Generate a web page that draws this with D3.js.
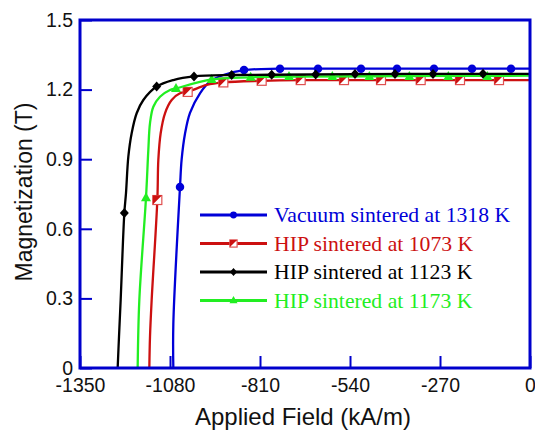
<!DOCTYPE html>
<html>
<head>
<meta charset="utf-8">
<script src="https://cdn.jsdelivr.net/npm/d3@7"></script>
<style>
  body { margin: 0; background: #fff; }
  svg { display: block; }
</style>
</head>
<body>
<div id="chart"></div>
<script>
// demagnetization curves, values
var xTicks = [-1350, -1080, -810, -540, -270, 0];
var yTicks = [0, 0.3, 0.6, 0.9, 1.2, 1.5];

var seriesNames = [
  "Vacuum sintered at 1318 K",
  "HIP sintered at 1073 K",
  "HIP sintered at 1123 K",
  "HIP sintered at 1173 K"
];

var vacuumCurve = [[-1070, 0], [-1070, 0.19], [-1050, 0.78], [-1045, 0.90], [-1035, 1.01], [-1020, 1.10],
  [-990, 1.184], [-960, 1.234], [-920, 1.263], [-858, 1.284], [-750, 1.29], [-500, 1.29], [-250, 1.29], [0, 1.29]];
var vacuumMarks = [[-1050, 0.78], [-858, 1.284], [-750, 1.29], [-636, 1.29], [-507, 1.29], [-399, 1.29],
  [-288, 1.29], [-174, 1.29], [-57, 1.29]];

var hip1073Curve = [[-1142, 0], [-1140, 0.135], [-1135, 0.293], [-1118, 0.724], [-1115, 0.897], [-1108, 1.012],
  [-1095, 1.098], [-1075, 1.155], [-1050, 1.184], [-1027, 1.19], [-970, 1.22], [-920, 1.231], [-805, 1.238],
  [-688, 1.241], [-400, 1.241], [0, 1.241]];
var hip1073Marks = [[-1118, 0.724], [-1027, 1.19], [-920, 1.231], [-805, 1.238], [-688, 1.241], [-558, 1.241],
  [-447, 1.241], [-328, 1.241], [-210, 1.241], [-93, 1.241]];

var hip1123Curve = [[-1237, 0], [-1233, 0.135], [-1228, 0.293], [-1217, 0.668], [-1212, 0.754], [-1205, 0.911],
  [-1195, 1.012], [-1180, 1.098], [-1160, 1.155], [-1120, 1.213], [-1070, 1.241], [-1008, 1.257], [-895, 1.263],
  [-775, 1.264], [-525, 1.267], [-141, 1.268], [0, 1.268]];
var hip1123Marks = [[-1217, 0.668], [-1120, 1.213], [-1008, 1.257], [-895, 1.263], [-775, 1.264], [-643, 1.265],
  [-525, 1.267], [-405, 1.267], [-291, 1.267], [-141, 1.268]];

var hip1173Curve = [[-1177, 0], [-1172, 0.293], [-1152, 0.734], [-1145, 0.94], [-1140, 1.055], [-1130, 1.126],
  [-1110, 1.169], [-1080, 1.198], [-1062, 1.205], [-955, 1.244], [-838, 1.253], [-723, 1.256], [-400, 1.258], [0, 1.26]];
var hip1173Marks = [[-1152, 0.734], [-1062, 1.205], [-955, 1.244], [-838, 1.253], [-723, 1.256], [-593, 1.256],
  [-482, 1.256], [-362, 1.256], [-245, 1.256], [-128, 1.256]];

var colors = ["#0000d8", "#cc1010", "#000000", "#22ee22"];
var shapes = ["circle", "halfsquare", "diamond", "triangle"];
var curves = [vacuumCurve, hip1073Curve, hip1123Curve, hip1173Curve];
var marks = [vacuumMarks, hip1073Marks, hip1123Marks, hip1173Marks];
var drawOrder = [0, 1, 3, 2];

var W = 535, H = 431;
var svg = d3.select('#chart').append('svg')
  .attr('width', W).attr('height', H);

var x = d3.scaleLinear().domain([-1350, 0]).range([80, 530]);
var y = d3.scaleLinear().domain([0, 1.5]).range([368, 20]);
var frameColor = "#0000cc";

// axes (ticks inside)
var xAxis = svg.append('g')
  .attr('transform', 'translate(0,' + y(0) + ')')
  .call(d3.axisBottom(x).tickValues(xTicks).tickSize(-12).tickPadding(10).tickFormat(d => String(d)));
var yAxis = svg.append('g')
  .attr('transform', 'translate(' + x(-1350) + ',0)')
  .call(d3.axisLeft(y).tickValues(yTicks).tickSize(-12).tickPadding(7)
    .tickFormat(d => d === 0 ? "0" : d.toFixed(1)));

[xAxis, yAxis].forEach(function (g) {
  g.select('.domain').remove();
  g.selectAll('.tick line').attr('stroke', frameColor).attr('stroke-width', 2);
  g.selectAll('.tick text')
    .attr('fill', '#111')
    .style('font-family', 'Liberation Sans, Arial, sans-serif')
    .style('font-size', '19.5px');
});

var clipId = 'plotclip';
svg.append('clipPath').attr('id', clipId).append('rect')
  .attr('x', 80).attr('y', 20).attr('width', 450).attr('height', 348);

var line = d3.line()
  .x(d => x(d[0])).y(d => y(d[1]))
  .curve(d3.curveCatmullRom.alpha(0.5));

function drawMarker(g, shape, color, cx, cy, s) {
  if (shape === 'circle') {
    g.append('circle').attr('cx', cx).attr('cy', cy).attr('r', s * 0.85).attr('fill', color);
  } else if (shape === 'diamond') {
    g.append('path').attr('fill', color)
      .attr('d', 'M' + cx + ',' + (cy - s) + 'L' + (cx + s * 0.9) + ',' + cy + 'L' + cx + ',' + (cy + s) + 'L' + (cx - s * 0.9) + ',' + cy + 'Z');
  } else if (shape === 'triangle') {
    g.append('path').attr('fill', color)
      .attr('d', 'M' + cx + ',' + (cy - s * 1.1) + 'L' + (cx + s) + ',' + (cy + s * 0.7) + 'L' + (cx - s) + ',' + (cy + s * 0.7) + 'Z');
  } else {
    var h = s * 0.9;
    g.append('rect').attr('x', cx - h).attr('y', cy - h).attr('width', 2 * h).attr('height', 2 * h)
      .attr('fill', '#fff').attr('stroke', '#e05050').attr('stroke-width', 1.2);
    g.append('path').attr('fill', color)
      .attr('d', 'M' + (cx - h) + ',' + (cy - h) + 'L' + (cx + h) + ',' + (cy - h) + 'L' + (cx - h) + ',' + (cy + h) + 'Z');
  }
}

var plot = svg.append('g').attr('clip-path', 'url(#' + clipId + ')');
drawOrder.forEach(function (i) {
  plot.append('path')
    .datum(curves[i])
    .attr('d', line)
    .attr('fill', 'none')
    .attr('stroke', colors[i])
    .attr('stroke-width', 2.3);
  var mg = plot.append('g');
  marks[i].forEach(function (p) {
    drawMarker(mg, shapes[i], colors[i], x(p[0]), y(p[1]), 5);
  });
});

// frame
svg.append('rect')
  .attr('x', 80).attr('y', 20).attr('width', 450).attr('height', 348)
  .attr('fill', 'none').attr('stroke', frameColor).attr('stroke-width', 3);

// legend
var legend = svg.append('g');
seriesNames.forEach(function (name, i) {
  var ly = 215 + i * 28.5;
  legend.append('line')
    .attr('x1', 200).attr('x2', 267).attr('y1', ly).attr('y2', ly)
    .attr('stroke', colors[i]).attr('stroke-width', 2.8);
  drawMarker(legend, shapes[i], colors[i], 233.5, ly, 4);
  legend.append('text')
    .attr('x', 274).attr('y', ly + 7)
    .attr('fill', colors[i])
    .style('font-family', 'Liberation Serif, Times New Roman, serif')
    .style('font-size', '21.7px')
    .text(name);
});

// axis titles
svg.append('text')
  .attr('x', 303).attr('y', 425)
  .attr('text-anchor', 'middle')
  .attr('fill', '#111')
  .style('font-family', 'Liberation Sans, Arial, sans-serif')
  .style('font-size', '24px')
  .text('Applied Field (kA/m)');

svg.append('text')
  .attr('transform', 'translate(32,192) rotate(-90)')
  .attr('text-anchor', 'middle')
  .attr('fill', '#111')
  .style('font-family', 'Liberation Sans, Arial, sans-serif')
  .style('font-size', '23px')
  .text('Magnetization (T)');
</script>
</body>
</html>
